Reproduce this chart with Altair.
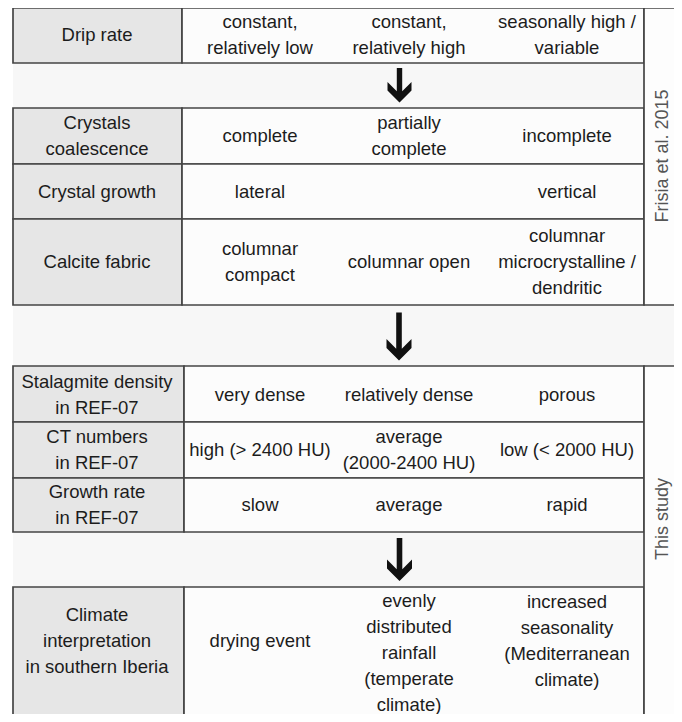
import altair as alt
import pandas as pd

# ---------------- content ----------------
HEAD_TOP = ["Drip rate", "Crystals\ncoalescence", "Crystal growth", "Calcite fabric"]
COL1_TOP = ["constant,\nrelatively low", "complete", "lateral", "columnar\ncompact"]
COL2_TOP = ["constant,\nrelatively high", "partially\ncomplete", "", "columnar open"]
COL3_TOP = ["seasonally high /\nvariable", "incomplete", "vertical",
            "columnar\nmicrocrystalline /\ndendritic"]

HEAD_BOT = ["Stalagmite density\nin REF-07", "CT numbers\nin REF-07", "Growth rate\nin REF-07",
            "Climate\ninterpretation\nin southern Iberia"]
COL1_BOT = ["very dense", "high (> 2400 HU)", "slow", "drying event"]
COL2_BOT = ["relatively dense", "average\n(2000-2400 HU)", "average",
            "evenly\ndistributed\nrainfall\n(temperate\nclimate)"]
COL3_BOT = ["porous", "low (< 2000 HU)", "rapid",
            "increased\nseasonality\n(Mediterranean\nclimate)"]

SOURCES = ["Frisia et al. 2015", "This study"]

# ---------------- layout (page pixels) ----------------
ROWS_TOP = [(8, 63), (108, 164), (164, 219), (219, 305)]
ROWS_BOT = [(366, 422), (422, 478), (478, 532), (587, 730)]
TEXT_Y_TOP = [35, 136, 192, 262]
TEXT_Y_BOT = [395, 450, 505, 641]
HEAD_X = (13, 182)
HEAD_X_BOT = (13, 184)
DATA_X = (182, 644)
SRC_X = (644, 700)
SRC_Y = [(8, 305), (366, 730)]
SRC_TEXT = [(663, 156), (663, 519)]
COL_X = [260, 409, 567]
HEAD_CX = 97
BANDS = [(13, 644, 63, 108), (13, 700, 305, 366), (13, 644, 532, 587)]
ARROWS = [  # x, tip y, length, shaft half width, head half width, arm thickness
    (399.5, 102.5, 34.5, 2.7, 12.0, 8.5),
    (399.0, 360.5, 48.0, 2.8, 12.5, 9.0),
    (399.5, 581.0, 43.0, 2.8, 12.5, 9.0),
]

W, H = 666, 706
LH = 26
LINE = "#454545"
HEAD_FILL = "#e6e6e6"
CELL_FILL = "#fcfcfc"
BAND_FILL = "#f7f7f7"
TXT = "#1c1c1c"
FONT = "Liberation Sans"

xs = alt.Scale(domain=[8, 8 + W], nice=False, zero=False)
ys = alt.Scale(domain=[8, 8 + H], nice=False, zero=False, reverse=True)


def first_line_y(center, t):
    n = t.count("\n") + 1
    return center - (n - 1) * LH / 2


# ---------------- tables ----------------
cells = []
texts = []
for rows, head, c1, c2, c3, ty, hx in [
    (ROWS_TOP, HEAD_TOP, COL1_TOP, COL2_TOP, COL3_TOP, TEXT_Y_TOP, HEAD_X),
    (ROWS_BOT, HEAD_BOT, COL1_BOT, COL2_BOT, COL3_BOT, TEXT_Y_BOT, HEAD_X_BOT),
]:
    for i, (y0, y1) in enumerate(rows):
        cells.append(dict(x0=hx[0], x1=hx[1], y0=y0, y1=y1, kind="head"))
        cells.append(dict(x0=hx[1], x1=DATA_X[1], y0=y0, y1=y1, kind="cell"))
        texts.append(dict(x=HEAD_CX, y=first_line_y(ty[i], head[i]), t=head[i]))
        for cx, col in zip(COL_X, [c1, c2, c3]):
            yy = ty[i]
            if col[i].count("\n") == 4:
                yy = 653
            texts.append(dict(x=cx, y=first_line_y(yy, col[i]), t=col[i]))

for (y0, y1) in SRC_Y:
    cells.append(dict(x0=SRC_X[0], x1=SRC_X[1], y0=y0, y1=y1, kind="src"))

cells_df = pd.DataFrame(cells)
texts_df = pd.DataFrame(texts)
bands_df = pd.DataFrame([dict(x0=a, x1=b, y0=c, y1=d) for a, b, c, d in BANDS])
src_df = pd.DataFrame([dict(x=p[0], y=p[1], t=s) for p, s in zip(SRC_TEXT, SOURCES)])

bands = alt.Chart(bands_df).mark_rect(fill=BAND_FILL, strokeWidth=0).encode(
    x=alt.X("x0:Q", scale=xs, axis=None), x2="x1:Q",
    y=alt.Y("y0:Q", scale=ys, axis=None), y2="y1:Q",
)

rects = alt.Chart(cells_df).mark_rect(stroke=LINE, strokeWidth=1.7).encode(
    x=alt.X("x0:Q", scale=xs, axis=None), x2="x1:Q",
    y=alt.Y("y0:Q", scale=ys, axis=None), y2="y1:Q",
    fill=alt.Fill("kind:N", scale=alt.Scale(domain=["head", "cell", "src"],
                                            range=[HEAD_FILL, CELL_FILL, "#fdfdfd"]),
                  legend=None),
)

labels = alt.Chart(texts_df).mark_text(
    font=FONT, fontSize=18.5, lineHeight=LH, lineBreak="\n", color=TXT,
    align="center", baseline="middle",
).encode(
    x=alt.X("x:Q", scale=xs, axis=None),
    y=alt.Y("y:Q", scale=ys, axis=None),
    text="t:N",
)

src_labels = alt.Chart(src_df).mark_text(
    font="Liberation Sans", fontSize=18, color="#555555", angle=270,
    align="center", baseline="middle",
).encode(
    x=alt.X("x:Q", scale=xs, axis=None),
    y=alt.Y("y:Q", scale=ys, axis=None),
    text="t:N",
)

layers = [bands, rects, labels, src_labels]

for (ax, tip, L, s, hw, d) in ARROWS:
    u = 30.0
    pts = [(-s, -L), (s, -L), (s, -d - s), (hw, -d - hw), (hw, -hw), (0, 0),
           (-hw, -hw), (-hw, -d - hw), (-s, -d - s)]
    path = "M" + " L".join(f"{px / u:.4f},{py / u:.4f}" for px, py in pts) + " Z"
    adf = pd.DataFrame([dict(x=ax, y=tip)])
    layers.append(
        alt.Chart(adf).mark_point(shape=path, size=(2 * u) ** 2, filled=True,
                                  fill="#111111", strokeWidth=0, opacity=1).encode(
            x=alt.X("x:Q", scale=xs, axis=None),
            y=alt.Y("y:Q", scale=ys, axis=None),
        )
    )

chart = alt.layer(*layers).properties(
    width=W, height=H, padding=0, autosize=alt.AutoSizeParams(type="none"),
    background="#ffffff",
).configure_view(stroke=None)

chart.save("out.html", embed_options={"renderer": "svg", "actions": False})
